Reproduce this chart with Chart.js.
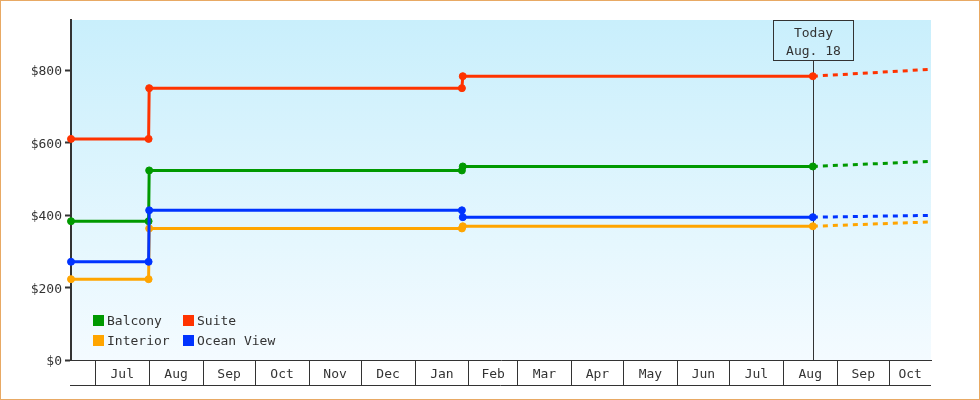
<!DOCTYPE html>
<html>
<head>
<meta charset="utf-8">
<title>Cabin prices</title>
<script src="https://cdn.jsdelivr.net/npm/chart.js@4.4.1/dist/chart.umd.min.js"></script>
<style>
  html, body { margin: 0; padding: 0; background: #fff; }
  #wrap { position: relative; width: 980px; height: 400px; box-sizing: border-box; border: 1px solid #e8a964; }
</style>
</head>
<body>
<div id="wrap"><canvas id="priceChart"></canvas></div>
<script>
// Axis range and the "today" marker
const axisStart = '2018-06-17';
const axisEnd = '2019-10-25';
const todayDate = '2019-08-18';
const todayText = ['Today', 'Aug. 18'];

// Month boundaries on the x axis and their labels
const monthStarts = ['2018-07-01', '2018-08-01', '2018-09-01', '2018-10-01', '2018-11-01', '2018-12-01',
  '2019-01-01', '2019-02-01', '2019-03-01', '2019-04-01', '2019-05-01', '2019-06-01',
  '2019-07-01', '2019-08-01', '2019-09-01', '2019-10-01'];
const monthLabels = ['Jul', 'Aug', 'Sep', 'Oct', 'Nov', 'Dec', 'Jan', 'Feb', 'Mar', 'Apr', 'May', 'Jun',
  'Jul', 'Aug', 'Sep', 'Oct'];
const yTicks = [0, 200, 400, 600, 800];
const yMax = 938;

// Price history (solid) and forecast (dashed)
const priceDates = ['2018-06-17', '2018-07-31T16:00Z', '2018-08-01T00:00Z',
  '2019-01-28T00:00Z', '2019-01-28T12:00Z', '2019-08-18'];
const forecastDates = ['2019-08-18', '2019-10-25'];

const balcony = [383, 383, 523, 523, 534, 534];
const suite = [610, 610, 750, 750, 783, 783];
const interior = [223, 223, 363, 363, 369, 369];
const oceanView = [271, 271, 413, 413, 394, 394];

const balconyForecast = [534, 548];
const suiteForecast = [783, 802];
const interiorForecast = [369, 381];
const oceanViewForecast = [394, 399];

const seriesNames = ['Balcony', 'Suite', 'Interior', 'Ocean View'];
const seriesColors = ['#009900', '#ff3300', '#ffa500', '#0033ff'];

const day = d => (Date.parse(d) - Date.parse(axisStart)) / 864e5;
const toPoints = (dates, values) => values.map((v, i) => ({ x: day(dates[i]), y: v }));

// x ticks: month boundaries (grid marks) alternating with month midpoints (labels)
const boundaries = monthStarts.map(day);
const ends = boundaries.slice(1).concat(day(axisEnd));
const xTickValues = [];
boundaries.forEach((b, i) => xTickValues.push(b, (b + ends[i]) / 2));

const history = [balcony, suite, interior, oceanView];
const forecast = [balconyForecast, suiteForecast, interiorForecast, oceanViewForecast];
const drawOrder = [3, 0, 1, 2];

const datasets = [];
drawOrder.forEach(i => {
  datasets.push({
    label: seriesNames[i], data: toPoints(priceDates, history[i]),
    borderColor: seriesColors[i], backgroundColor: seriesColors[i],
    borderWidth: 3, pointRadius: 3.5, pointBorderWidth: 1, pointHoverRadius: 3.5,
    tension: 0, clip: false
  });
});
drawOrder.forEach(i => {
  datasets.push({
    label: seriesNames[i] + ' forecast', data: toPoints(forecastDates, forecast[i]),
    borderColor: seriesColors[i], borderWidth: 3, borderDash: [5, 5],
    pointRadius: 0, tension: 0, clip: false
  });
});

const plotBackground = {
  id: 'plotBackground',
  beforeDraw(chart) {
    const { ctx, chartArea: a } = chart;
    const g = ctx.createLinearGradient(0, a.top, 0, a.bottom);
    g.addColorStop(0, '#c9effc');
    g.addColorStop(1, '#f4fbff');
    ctx.save();
    ctx.fillStyle = g;
    ctx.fillRect(a.left, a.top, a.right - a.left, a.bottom - a.top);
    ctx.restore();
  }
};

const todayMarker = {
  id: 'todayMarker',
  beforeDatasetsDraw(chart) {
    const { ctx, chartArea: a } = chart;
    const x = Math.round(chart.scales.x.getPixelForValue(day(todayDate))) + 0.5;
    const top = a.top + 0.5;
    ctx.save();
    ctx.strokeStyle = '#333';
    ctx.lineWidth = 1;
    ctx.strokeRect(x - 40, top, 80, 40);
    ctx.beginPath();
    ctx.moveTo(x, top + 40);
    ctx.lineTo(x, a.bottom);
    ctx.stroke();
    ctx.fillStyle = '#333';
    ctx.font = "13px 'DejaVu Sans Mono'";
    ctx.textAlign = 'center';
    ctx.textBaseline = 'middle';
    ctx.fillText(todayText[0], x, a.top + 14);
    ctx.fillText(todayText[1], x, a.top + 32);
    ctx.restore();
  }
};

const boxLegend = {
  id: 'boxLegend',
  afterDraw(chart) {
    const { ctx, chartArea: a } = chart;
    // x axis bottom rule
    ctx.save();
    ctx.strokeStyle = '#333';
    ctx.lineWidth = 1;
    ctx.beginPath();
    ctx.moveTo(a.left - 1, a.bottom + 25.5);
    ctx.lineTo(a.right, a.bottom + 25.5);
    ctx.stroke();

    ctx.font = "13px 'DejaVu Sans Mono'";
    ctx.textBaseline = 'middle';
    ctx.textAlign = 'left';
    seriesNames.forEach((name, i) => {
      const x = a.left + 22 + (i % 2) * 90;
      const y = a.bottom - 45 + Math.floor(i / 2) * 20;
      ctx.fillStyle = seriesColors[i];
      ctx.fillRect(x, y, 11, 11);
      ctx.fillStyle = '#333';
      ctx.fillText(name, x + 14, y + 7);
    });
    ctx.restore();
  }
};

Chart.defaults.font.family = "'DejaVu Sans Mono', monospace";
Chart.defaults.font.size = 13;
Chart.defaults.color = '#333';

new Chart(document.getElementById('priceChart'), {
  type: 'line',
  data: { datasets },
  plugins: [plotBackground, todayMarker, boxLegend],
  options: {
    responsive: true,
    maintainAspectRatio: false,
    animation: false,
    events: [],
    layout: { padding: { top: 19, right: 48, bottom: 0, left: 0 } },
    plugins: { legend: { display: false }, tooltip: { enabled: false } },
    scales: {
      x: {
        type: 'linear',
        min: day(axisStart),
        max: day(axisEnd),
        afterBuildTicks: s => { s.ticks = xTickValues.map(v => ({ value: v })); },
        afterFit: s => { s.height = 39; },
        grid: {
          drawOnChartArea: false,
          tickLength: 25,
          tickWidth: 1,
          tickColor: c => (c.index % 2 === 0 ? '#333' : 'rgba(0,0,0,0)')
        },
        border: { display: true, color: '#333', width: 1 },
        ticks: {
          autoSkip: false,
          maxRotation: 0,
          padding: -18,
          color: '#333',
          callback: (v, i) => (i % 2 ? monthLabels[(i - 1) / 2] : '')
        }
      },
      y: {
        min: 0,
        max: yMax,
        afterBuildTicks: s => { s.ticks = yTicks.map(v => ({ value: v })); },
        afterFit: s => { s.width = 70; },
        grid: { drawOnChartArea: false, tickLength: 6, tickWidth: 2, tickColor: '#333' },
        border: { color: '#333', width: 2 },
        ticks: { padding: 3, labelOffset: 2, color: '#333', callback: v => '$' + v }
      }
    }
  }
});
</script>
</body>
</html>
